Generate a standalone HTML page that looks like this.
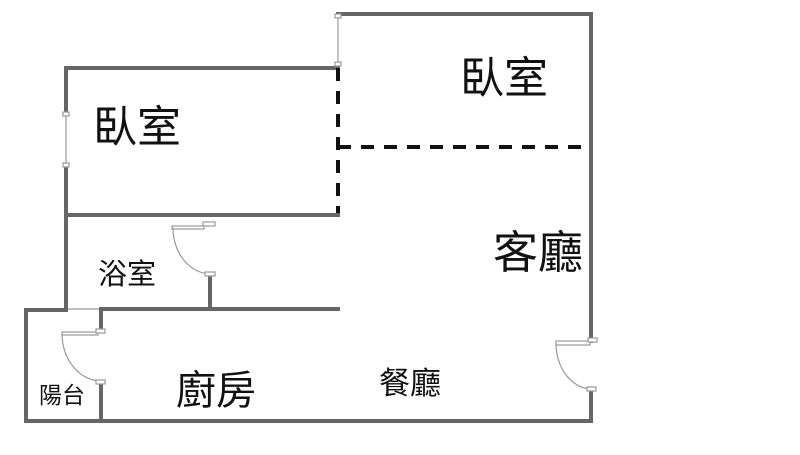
<!DOCTYPE html>
<html><head><meta charset="utf-8"><style>
body{margin:0;background:#fff;width:800px;height:450px;overflow:hidden}
text{font-family:"Liberation Sans","Noto Sans CJK TC",sans-serif;fill:#111}
</style></head><body>
<svg width="800" height="450" xmlns="http://www.w3.org/2000/svg">
<g stroke="#666" stroke-width="4" fill="none" stroke-linecap="square">
<polyline points="338,14 591,14 591,341"/>
<polyline points="591,389 591,421 26,421 26,310 66,310"/>
<polyline points="338,68 66,68 66,114"/>
<polyline points="66,165 66,310"/>
<line x1="66" y1="215" x2="338" y2="215"/>
<line x1="210" y1="275" x2="210" y2="309"/>
<line x1="101" y1="309" x2="338" y2="309"/>
<line x1="101" y1="309" x2="101" y2="330"/>
<line x1="101" y1="382" x2="101" y2="421"/>
</g>
<g stroke="#999" stroke-width="1.2" fill="none">
<line x1="338" y1="16" x2="338" y2="66"/>
<line x1="66" y1="114" x2="66" y2="165"/>
<line x1="68" y1="309" x2="99" y2="309"/>
<rect x="335" y="14" width="6" height="4" fill="#fff"/>
<rect x="335" y="62" width="6" height="4" fill="#fff"/>
<rect x="63" y="112" width="6" height="4" fill="#fff"/>
<rect x="63" y="163" width="6" height="4" fill="#fff"/>
<rect x="203" y="222" width="12" height="4" fill="#fff"/>
<rect x="172" y="226" width="32" height="3" fill="#fff"/>
<path d="M173,228 A38,46 0 0 0 211,274"/>
<rect x="205" y="272" width="10" height="4" fill="#fff"/>
<rect x="62" y="332" width="36" height="3" fill="#fff"/>
<rect x="96" y="329" width="9" height="4" fill="#fff"/>
<path d="M62,334 A39,48 0 0 0 101,381"/>
<rect x="96" y="380" width="9" height="4" fill="#fff"/>
<rect x="556" y="341" width="34" height="4" fill="#fff"/>
<rect x="588" y="338" width="9" height="4" fill="#fff"/>
<path d="M556,343 A36,46 0 0 0 591,389"/>
<rect x="587" y="387" width="9" height="4" fill="#fff"/>
</g>
<g stroke="#111" stroke-width="4" fill="none" stroke-dasharray="13,10">
<line x1="338" y1="68" x2="338" y2="213"/>
<line x1="338" y1="147" x2="589" y2="147"/>
</g>
<text x="93" y="142" font-size="44">臥室</text>
<text x="460" y="93" font-size="44">臥室</text>
<text x="493" y="268" font-size="45">客廳</text>
<text x="98" y="284" font-size="29">浴室</text>
<text x="176" y="404" font-size="40">廚房</text>
<text x="379" y="394" font-size="31">餐廳</text>
<text x="39" y="403" font-size="23">陽台</text>
</svg>
</body></html>
